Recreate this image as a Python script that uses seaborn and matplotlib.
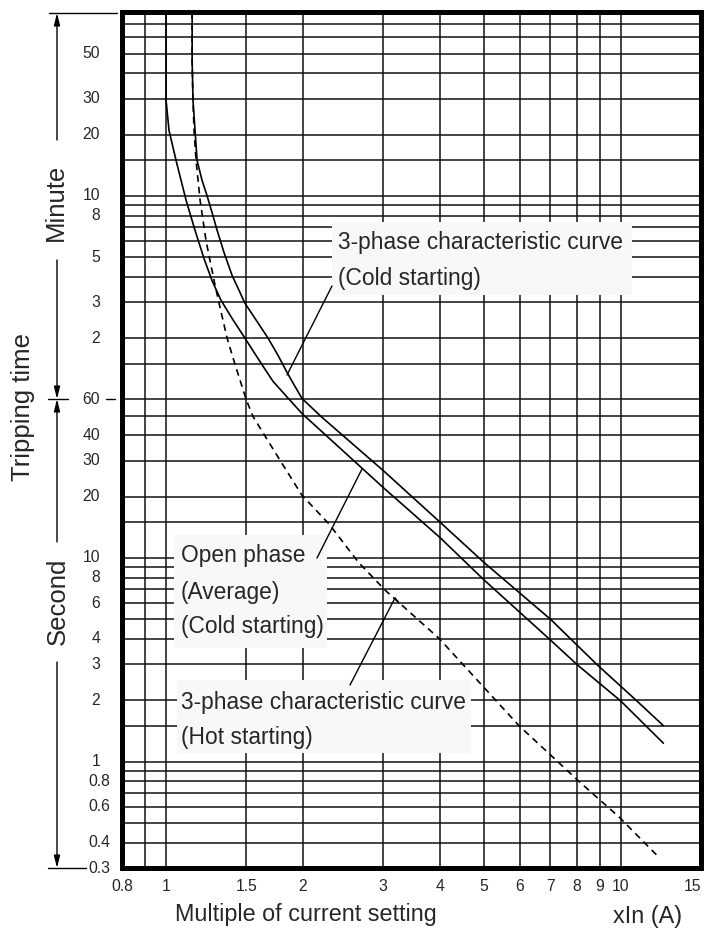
import matplotlib
matplotlib.use("Agg")
import matplotlib.pyplot as plt
import matplotlib.transforms as mtransforms
from matplotlib.lines import Line2D
from matplotlib.patches import Rectangle
import pandas as pd
import seaborn as sns

# ---------------- data ----------------
# Open phase (Average) (Cold starting)  -- lower solid curve
open_I = [1.0, 1.0, 1.0, 1.015, 1.052, 1.079, 1.107, 1.158, 1.212, 1.262, 1.321, 1.397, 1.491, 1.577,
          1.651, 1.719, 1.799, 1.99, 3.0, 4.0, 5.0, 7.0, 8.0, 10.0, 12.4]
open_t = [4800, 2774, 1765, 1257, 895, 714, 570, 406, 295, 230, 184, 150, 120, 98.7,
          84.3, 73.6, 65.7, 51.2, 22.2, 12.6, 7.8, 3.95, 3.0, 1.98, 1.23]

# 3-phase characteristic curve (Cold starting) -- upper solid curve
cold_I = [1.141, 1.141, 1.146, 1.158, 1.170, 1.200, 1.230, 1.262, 1.295, 1.341, 1.397, 1.447, 1.491,
          1.585, 1.676, 1.763, 1.845, 1.921, 1.99, 2.191, 3.0, 4.0, 5.0, 7.0, 8.85, 10.8, 12.4]
cold_t = [4800, 2774, 1765, 1257, 895, 714, 603, 497, 406, 316, 244, 206, 178,
          145, 120, 98.7, 81.4, 69.5, 60.7, 49.5, 26.9, 15.0, 9.5, 5.0, 3.0, 2.0, 1.5]

# 3-phase characteristic curve (Hot starting) -- dashed curve
hot_I = [1.141, 1.141, 1.146, 1.152, 1.164, 1.176, 1.188, 1.206, 1.224, 1.249, 1.275, 1.308, 1.362,
         1.418, 1.5, 1.553, 1.77, 1.99, 2.28, 2.65, 3.04, 3.98, 5.97, 8.08, 9.9, 12.1]
hot_t = [4800, 2774, 1765, 1257, 895, 714, 570, 454, 362, 289, 230, 178, 120,
         89.1, 60, 49.5, 30.8, 20.3, 14.7, 9.5, 6.9, 4.03, 1.5, 0.8, 0.535, 0.34]

x_grid = [0.8, 0.9, 1, 1.5, 2, 3, 4, 5, 6, 7, 8, 9, 10, 15]
x_labels = ["0.8", "", "1", "1.5", "2", "3", "4", "5", "6", "7", "8", "9", "10", "15"]
y_grid_sec = [0.3, 0.4, 0.5, 0.6, 0.7, 0.8, 0.9, 1, 1.5, 2, 3, 4, 5, 6, 7, 8, 9, 10, 15, 20, 30, 40, 50, 60]
y_grid_min = [1.5, 2, 3, 4, 5, 6, 7, 8, 9, 10, 15, 20, 30, 40, 50, 60, 70, 80]
sec_labels = ["40", "30", "20", "10", "8", "6", "4", "3", "2", "1", "0.8", "0.6", "0.4", "0.3"]
min_labels = ["50", "30", "20", "10", "8", "5", "3", "2"]

# ---------------- figure ----------------
sns.set_style("white")
plt.rcParams["font.family"] = ["Liberation Sans", "DejaVu Sans"]
TXT = "#262626"
TICKFS = 11.3
W, H = 704, 930
fig = plt.figure(figsize=(W / 100, H / 100), dpi=100)
fig.patch.set_facecolor("white")
ax = fig.add_axes([122 / W, 1 - 868 / H, (701 - 122) / W, (868 - 12) / H])


def fx(x):
    return x / W


def fy(y):
    return 1 - y / H


df = pd.concat([
    pd.DataFrame({"I": open_I, "t": open_t, "curve": "open"}),
    pd.DataFrame({"I": cold_I, "t": cold_t, "curve": "cold"}),
    pd.DataFrame({"I": hot_I, "t": hot_t, "curve": "hot"}),
])
ax.set_xscale("log")
ax.set_yscale("log")
for name, ls in [("open", "-"), ("cold", "-"), ("hot", (0, (4, 3)))]:
    sub = df[df.curve == name]
    sns.lineplot(data=sub, x="I", y="t", ax=ax, sort=False, estimator=None,
                 color="black", lw=1.2, linestyle=ls, zorder=4)

ax.set_xlim(0.8, 15)
ax.set_ylim(0.3, 4800)

# grid
ax.set_xticks(x_grid)
ax.set_xticklabels(x_labels)
ax.xaxis.set_minor_locator(matplotlib.ticker.NullLocator())
yt = y_grid_sec + [m * 60 for m in y_grid_min]
ax.set_yticks(yt)
ax.set_yticklabels([""] * len(yt))
ax.yaxis.set_minor_locator(matplotlib.ticker.NullLocator())
ax.set_axisbelow(True)
ax.grid(True, which="major", color="#111111", lw=1.1)
ax.tick_params(axis="both", length=0)
ax.tick_params(axis="x", pad=8, labelsize=TICKFS, labelcolor=TXT)
ax.get_xticklabels()[-1].set_horizontalalignment("right")
ax.set_xlabel("")
ax.set_ylabel("")
for s in ax.spines.values():
    s.set_visible(True)
    s.set_color("black")
    s.set_linewidth(3.6)
    s.set_zorder(6)

# y tick labels (custom positions)
btr = mtransforms.blended_transform_factory(fig.transFigure, ax.transData)
for lab in sec_labels:
    v = float(lab)
    if "." in lab:
        ax.text(88 / W, v, lab, transform=btr, ha="left", va="center", fontsize=TICKFS, color=TXT, clip_on=False)
    else:
        ax.text(100 / W, v, lab, transform=btr, ha="right", va="center", fontsize=TICKFS, color=TXT, clip_on=False)
for lab in min_labels:
    ax.text(100 / W, float(lab) * 60, lab, transform=btr, ha="right", va="center", fontsize=TICKFS, color=TXT, clip_on=False)
ax.text(100 / W, 60, "60", transform=btr, ha="right", va="center", fontsize=TICKFS, color=TXT, clip_on=False)

# left-side dimension lines and arrows
def seg(x1, y1, x2, y2, lw=1.0):
    fig.add_artist(Line2D([fx(x1), fx(x2)], [fy(y1), fy(y2)], transform=fig.transFigure, color="black", lw=lw))


def arrow(x1, y1, x2, y2):
    ax.annotate("", xy=(fx(x2), fy(y2)), xytext=(fx(x1), fy(y1)), xycoords="figure fraction",
                textcoords="figure fraction", annotation_clip=False,
                arrowprops=dict(arrowstyle="-|>,head_length=0.6,head_width=0.15", color="black",
                                lw=1.0, mutation_scale=12, shrinkA=0, shrinkB=0))


seg(49, 13, 117, 13)
arrow(57, 140, 57, 13)
arrow(57, 260, 57, 399)
seg(48, 399, 68, 399)
seg(106, 399, 115, 399)
arrow(57, 542, 57, 399)
arrow(57, 662, 57, 868)
seg(48, 868, 86, 868)

fig.text(fx(56), fy(202), "Minute", rotation=90, ha="center", va="center", fontsize=18.5, color=TXT)
fig.text(fx(58), fy(601), "Second", rotation=90, ha="center", va="center", fontsize=18.5, color=TXT)
fig.text(fx(23), fy(407), "Tripping time", rotation=90, ha="center", va="center", fontsize=18.5, color=TXT)

# x axis label
fig.text(fx(306), fy(914), "Multiple of current setting", ha="center", va="center", fontsize=16.8, color=TXT)
fig.text(fx(648), fy(916), "xIn (A)", ha="center", va="center", fontsize=16.8, color=TXT)

# annotation boxes
BOXC = "#f8f8f8"


def box(x0, y0, x1, y1):
    r = Rectangle((fx(x0), fy(y1)), (x1 - x0) / W, (y1 - y0) / H, transform=fig.transFigure,
                  fc=BOXC, ec="none", zorder=2)
    ax.add_patch(r)


def label(x, y, s):
    ax.text(fx(x), fy(y), s, transform=fig.transFigure, ha="left", va="center",
            fontsize=16.4, color=TXT, zorder=3)


def leader(x1, y1, x2, y2):
    ax.add_line(Line2D([fx(x1), fx(x2)], [fy(y1), fy(y2)], transform=fig.transFigure,
                       color="black", lw=1.0, zorder=4))


box(332, 222, 632, 295)
label(338, 243, "3-phase characteristic curve")
label(338, 278, "(Cold starting)")
leader(332, 286, 287, 375)

box(174, 535, 327, 648)
label(181, 555, "Open phase")
label(181, 592, "(Average)")
label(181, 627, "(Cold starting)")
leader(317, 558, 362, 469)

box(177, 680, 471, 753)
label(181, 702, "3-phase characteristic curve")
label(181, 737, "(Hot starting)")
leader(350, 685, 395, 598)
leader(395, 598, 399, 603)

fig.savefig("out.png", dpi=100)
